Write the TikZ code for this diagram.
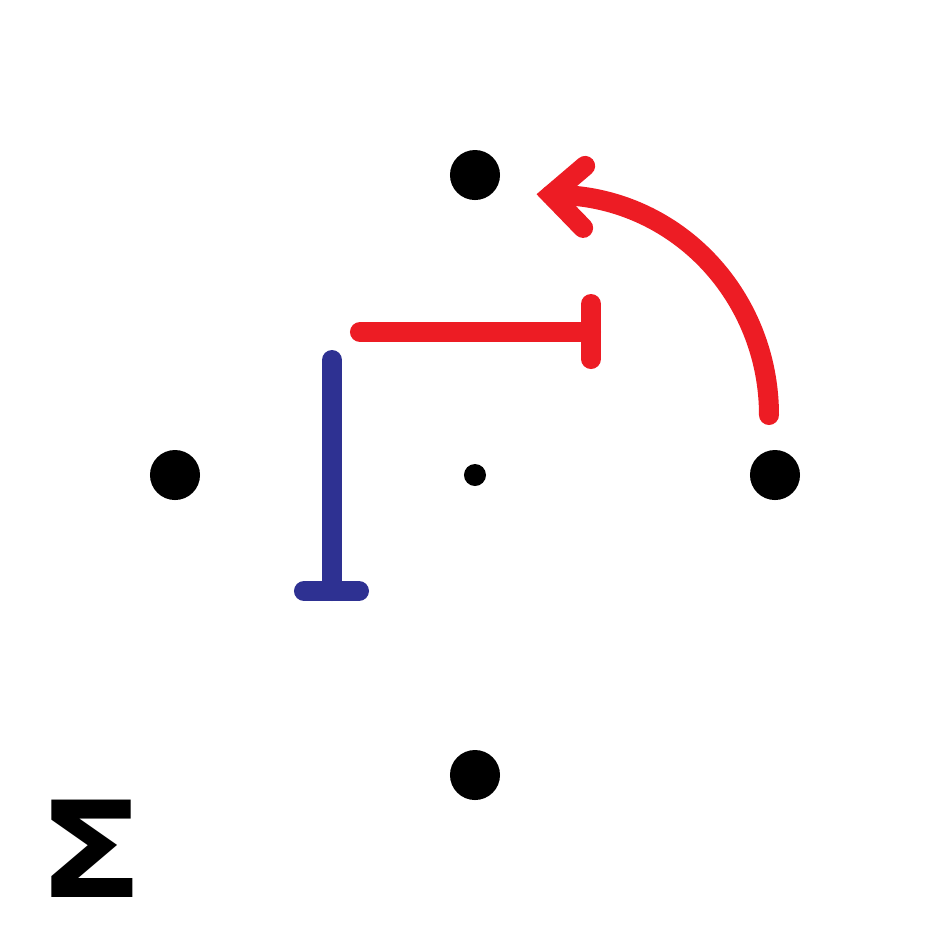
\documentclass[tikz,border=0pt]{standalone}
\usepackage{fontspec}
\newfontfamily\sigmafont{DejaVu Sans}
\usetikzlibrary{calc}
\definecolor{myred}{HTML}{ED1C24}
\definecolor{myblue}{HTML}{2E3192}
\begin{document}
\begin{tikzpicture}[x=0.01cm,y=-0.01cm,
  bigdot/.style={circle,fill=black,inner sep=0pt,minimum size=0.5cm},
  smalldot/.style={circle,fill=black,inner sep=0pt,minimum size=0.22cm},
  redstroke/.style={draw=myred,line width=0.2cm,line cap=round},
  bluestroke/.style={draw=myblue,line width=0.2cm,line cap=round}]
\useasboundingbox[fill=white] (0,0) rectangle (950,950);
% dots
\node[bigdot] (top) at (475,175) {};
\node[bigdot] (left) at (175,475) {};
\node[bigdot] (right) at (775,475) {};
\node[bigdot] (bottom) at (475,775) {};
\node[smalldot] (center) at (475,475) {};
% red T-bar
\coordinate (r1) at (360,332);
\coordinate (r2) at (591,332);
\coordinate (r2a) at (591,304);
\coordinate (r2b) at (591,359);
\draw[redstroke] (r1) -- (r2);
\draw[redstroke] (r2a) -- (r2b);
% blue T-bar
\coordinate (b1) at (332,360);
\coordinate (b2) at (332,591);
\coordinate (b2a) at (304,591);
\coordinate (b2b) at (359,591);
\draw[bluestroke] (b1) -- (b2);
\draw[bluestroke] (b2a) -- (b2b);
% red curved arrow
\coordinate (a0) at (769,415);
\draw[redstroke] (a0) arc[start angle=0,end angle=91,x radius=2.14cm,y radius=2.2cm] coordinate (tip);
\draw[redstroke,line join=miter] ($(tip)+(34,-29)$) -- (tip) -- ($(tip)+(32,33)$);
% sigma
\node[inner sep=0pt,font=\sigmafont\bfseries\fontsize{38}{40}\selectfont] (sigma) at (91,849) {\scalebox{1.17}[1]{Σ}};
\end{tikzpicture}
\end{document}
